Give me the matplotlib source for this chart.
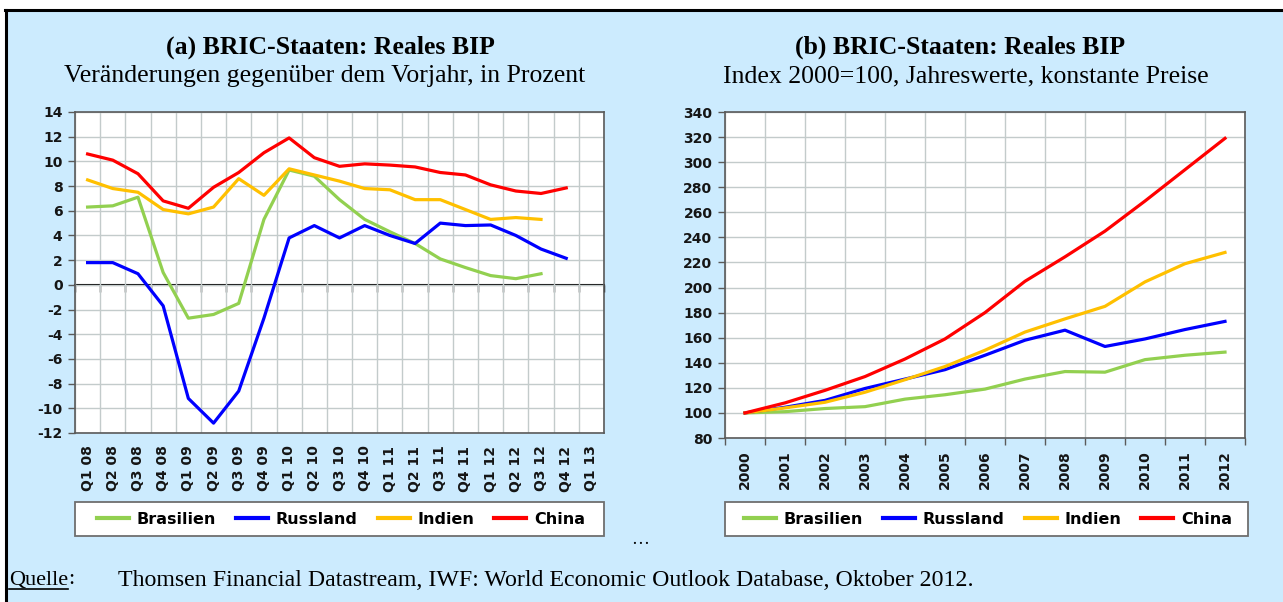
import matplotlib
matplotlib.use("Agg")
import matplotlib.pyplot as plt
import numpy as np
from matplotlib.patches import Rectangle
from matplotlib.lines import Line2D

plt.rcParams["axes.unicode_minus"] = False

# --- data (a): Veränderung gegenüber Vorjahr, in Prozent
quarters = ["Q1 08", "Q2 08", "Q3 08", "Q4 08", "Q1 09", "Q2 09", "Q3 09", "Q4 09",
            "Q1 10", "Q2 10", "Q3 10", "Q4 10", "Q1 11", "Q2 11", "Q3 11", "Q4 11",
            "Q1 12", "Q2 12", "Q3 12", "Q4 12", "Q1 13"]
brasilien_q = [6.3, 6.4, 7.1, 1.0, -2.7, -2.4, -1.5, 5.3, 9.3, 8.8, 6.9, 5.3,
               4.3, 3.35, 2.1, 1.4, 0.75, 0.5, 0.9]
russland_q = [1.8, 1.8, 0.9, -1.7, -9.2, -11.2, -8.6, -2.7, 3.8, 4.8, 3.8, 4.8,
              4.0, 3.35, 5.0, 4.8, 4.85, 4.0, 2.9, 2.15]
indien_q = [8.5, 7.8, 7.5, 6.1, 5.75, 6.3, 8.6, 7.25, 9.4, 8.9, 8.4, 7.8,
            7.7, 6.9, 6.9, 6.1, 5.3, 5.45, 5.3]
china_q = [10.6, 10.1, 9.0, 6.8, 6.2, 7.9, 9.1, 10.7, 11.9, 10.3, 9.6, 9.8,
           9.7, 9.55, 9.1, 8.9, 8.1, 7.6, 7.4, 7.85]

# --- data (b): Index 2000=100
years = [str(y) for y in range(2000, 2013)]
brasilien_y = [100, 101, 103.5, 105, 111, 114.5, 119, 127, 133, 132.5, 142.5, 146, 148.5]
russland_y = [100, 104.5, 110, 119.5, 127, 134.5, 146, 158, 166, 153, 159, 166.5, 173]
indien_y = [100, 104, 108.5, 116.5, 126.5, 137, 150, 164.5, 175, 185, 204.5, 219, 228]
china_y = [100, 108, 118, 129, 143, 159, 180, 205, 224.5, 245, 269, 294, 319]

names = ["Brasilien", "Russland", "Indien", "China"]
colors = ["#92D050", "#0000FF", "#FFC000", "#FF0000"]

W, H = 1283, 602
fig = plt.figure(figsize=(W / 100, H / 100), dpi=100, facecolor="white")

bg = "#CCEBFE"
fig.patches.append(Rectangle((7 / W, 0), 1, 1 - 11 / H, transform=fig.transFigure,
                             facecolor=bg, edgecolor="none", zorder=-10))
fig.lines.append(Line2D([6 / W, 6 / W], [0, 1 - 10 / H], transform=fig.transFigure,
                        color="black", lw=2.2))
fig.lines.append(Line2D([5 / W, 1], [1 - 10 / H, 1 - 10 / H], transform=fig.transFigure,
                        color="black", lw=2.2))

tick_font = dict(family="DejaVu Sans", weight="bold", size=10)
grid_col = "#C3CBCB"
spine_col = "#5A5A5A"


def style_axes(ax, cats, ylim, ystep, bottom_ticks):
    n = len(cats)
    ax.set_facecolor("white")
    ax.set_xlim(-0.5, n - 0.5)
    ax.set_ylim(*ylim)
    ax.set_yticks(np.arange(ylim[0], ylim[1] + 1, ystep))
    ax.set_xticks(np.arange(n))
    ax.set_xticklabels(cats, rotation=90, va="top")
    ax.set_xticks(np.arange(n + 1) - 0.5, minor=True)
    ax.grid(which="minor", axis="x", color=grid_col, lw=1.0)
    ax.grid(which="major", axis="y", color=grid_col, lw=1.0)
    ax.tick_params(axis="x", which="major", length=0, pad=9)
    ax.tick_params(axis="x", which="minor", length=5 if bottom_ticks else 0,
                   direction="out", color=spine_col, width=1.0)
    ax.tick_params(axis="y", which="major", length=5, direction="out",
                   color=spine_col, width=1.0, pad=4)
    for lab in ax.get_xticklabels() + ax.get_yticklabels():
        lab.set_fontproperties(tick_font)
        lab.set_color("#151515")
    for sp in ax.spines.values():
        sp.set_color(spine_col)
        sp.set_linewidth(1.2)
    ax.set_axisbelow(True)


# --- chart (a)
ax1 = fig.add_axes([75 / W, 1 - 433 / H, 529 / W, 321 / H])
for vals, c in zip([brasilien_q, russland_q, indien_q, china_q], colors):
    ax1.plot(np.arange(len(vals)), vals, color=c, lw=2.3, solid_joinstyle="round")
style_axes(ax1, quarters, (-12, 14), 2, bottom_ticks=False)
zero_axis = ax1.secondary_xaxis(12 / 26)
zero_axis.set_xticks(np.arange(len(quarters) + 1) - 0.5)
zero_axis.tick_params(axis="x", direction="out", length=5, color="black", width=1.0,
                      labelbottom=False, labeltop=False)
for sp in zero_axis.spines.values():
    sp.set_color("black")
    sp.set_linewidth(1.5)

# --- chart (b)
ax2 = fig.add_axes([725 / W, 1 - 438 / H, 520 / W, 326 / H])
for vals, c in zip([brasilien_y, russland_y, indien_y, china_y], colors):
    ax2.plot(np.arange(len(vals)), vals, color=c, lw=2.3, solid_joinstyle="round")
style_axes(ax2, years, (80, 340), 20, bottom_ticks=True)

# --- titles
title_font = dict(family="Liberation Serif", size=18.5)
fig.text(330 / W, 1 - 47 / H, "(a) BRIC-Staaten: Reales BIP", ha="center", va="center",
         weight="bold", **title_font)
fig.text(325 / W, 1 - 76 / H, "Veränderungen gegenüber dem Vorjahr, in Prozent",
         ha="center", va="center", **title_font)
fig.text(960 / W, 1 - 47 / H, "(b) BRIC-Staaten: Reales BIP", ha="center", va="center",
         weight="bold", **title_font)
fig.text(966 / W, 1 - 76 / H, "Index 2000=100, Jahreswerte, konstante Preise",
         ha="center", va="center", **title_font)

# --- legends
handles = [Line2D([], [], color=c, lw=3) for c in colors]
for x0, x1 in [(75, 604), (725, 1248)]:
    fig.patches.append(Rectangle((x0 / W, 1 - 536 / H), (x1 - x0) / W, 34 / H,
                                 transform=fig.transFigure, facecolor="white",
                                 edgecolor="#6E6E6E", lw=1.3, zorder=1))
    fig.legend(handles, names, loc="center", ncol=4, frameon=False,
               bbox_to_anchor=((x0 + x1) / 2 / W + 1.5 / W, 1 - 519 / H),
               bbox_transform=fig.transFigure,
               prop=dict(family="DejaVu Sans", weight="bold", size=11.5),
               handlelength=2.0, handletextpad=0.5, columnspacing=1.25)

fig.text(640 / W, 1 - 539 / H, "…", ha="center", va="center",
         family="Liberation Serif", size=13)

quelle = fig.text(9 / W, 1 - 580 / H, "Quelle", ha="left", va="center",
                  family="Liberation Serif", size=16)
fig.text(118 / W, 1 - 580 / H,
         "Thomsen Financial Datastream, IWF: World Economic Outlook Database, Oktober 2012.",
         ha="left", va="center", family="Liberation Serif", size=17.2)

# underline "Quelle" and add the colon after it
fig.canvas.draw()
bb = quelle.get_window_extent()
fig.text(bb.x1 / W, 1 - 580 / H, ":", ha="left", va="center",
         family="Liberation Serif", size=16)
fig.lines.append(Line2D([bb.x0 / W, bb.x1 / W], [(bb.y0 + 1) / H, (bb.y0 + 1) / H],
                        transform=fig.transFigure, color="black", lw=1.2))

fig.savefig("out.png", dpi=100, facecolor=fig.get_facecolor())
